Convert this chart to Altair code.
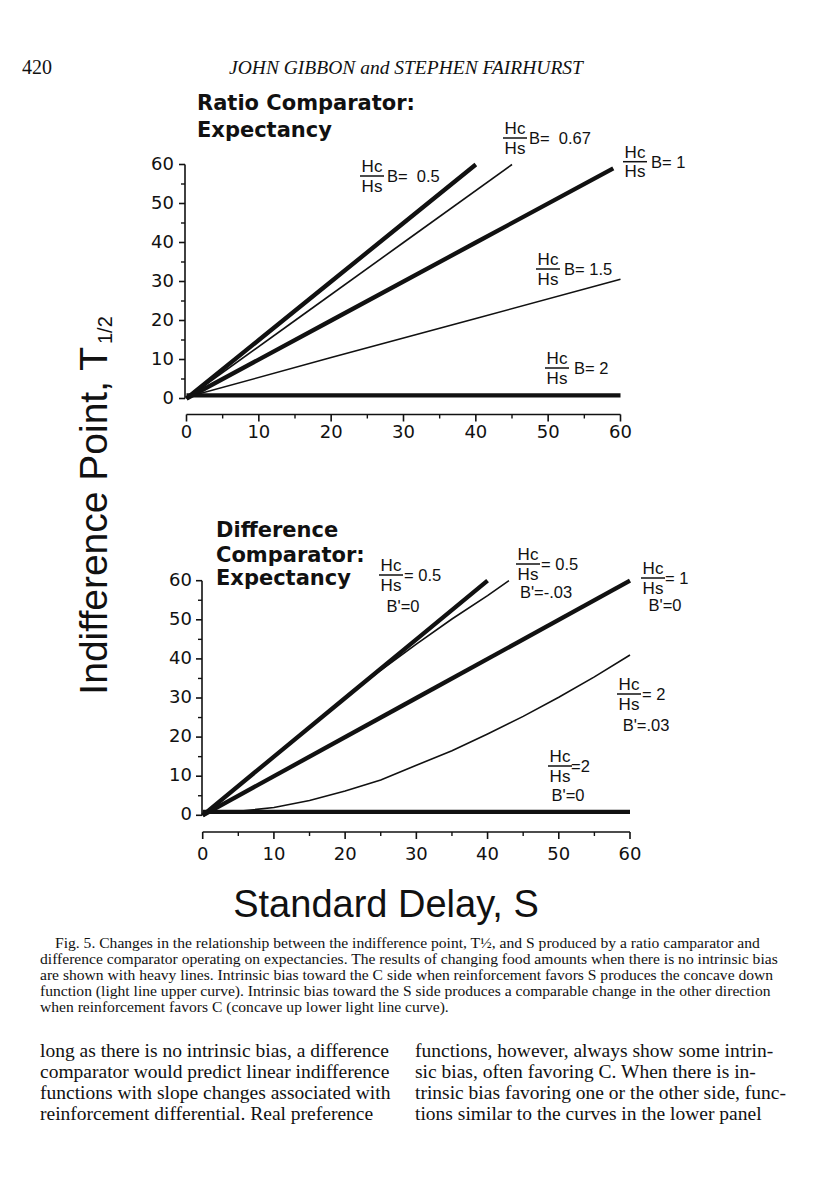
import altair as alt
import pandas as pd

INK = "#111111"

# ---------------- data ----------------
AXIS_TICKS = [0, 10, 20, 30, 40, 50, 60]
MINOR_TICKS = [5, 15, 25, 35, 45, 55]

# Upper panel: ratio comparator, expectancy
RATIO_B05_S = [0, 10, 20, 30, 40]
RATIO_B05_T = [0, 15, 30, 45, 60]
RATIO_B067_S = [0, 15, 30, 45]
RATIO_B067_T = [0, 20, 40, 60]
RATIO_B1_S = [0, 20, 40, 59]
RATIO_B1_T = [0, 20, 40, 59]
RATIO_B15_S = [0, 20, 40, 60]
RATIO_B15_T = [0.3, 10.5, 20.5, 30.6]
RATIO_B2_S = [0, 60]
RATIO_B2_T = [0.8, 0.8]

# Lower panel: difference comparator, expectancy
DIFF_05_S = [0, 10, 20, 30, 40]
DIFF_05_T = [0, 15, 30, 45, 60]
DIFF_05N_S = [0, 5, 10, 15, 20, 25, 30, 35, 40, 43]
DIFF_05N_T = [0, 7.6, 15.2, 22.7, 30, 37.1, 43.8, 50.2, 56.2, 60]
DIFF_1_S = [0, 30, 60]
DIFF_1_T = [0, 30, 60]
DIFF_2P_S = [0, 5, 10, 15, 20, 25, 30, 35, 40, 45, 50, 55, 60]
DIFF_2P_T = [0.8, 1.0, 2.0, 3.8, 6.2, 9.0, 12.8, 16.5, 20.8, 25.3, 30.2, 35.4, 41.0]
DIFF_2_S = [0, 60]
DIFF_2_T = [0.9, 0.9]


def series(name, heavy, s, t):
    return pd.DataFrame({"S": s, "T": t, "curve": name, "heavy": heavy})


top_df = pd.concat([
    series("B=0.5", True, RATIO_B05_S, RATIO_B05_T),
    series("B=0.67", False, RATIO_B067_S, RATIO_B067_T),
    series("B=1", True, RATIO_B1_S, RATIO_B1_T),
    series("B=1.5", False, RATIO_B15_S, RATIO_B15_T),
    series("B=2", True, RATIO_B2_S, RATIO_B2_T),
], ignore_index=True)

bot_df = pd.concat([
    series("0.5 B'=0", True, DIFF_05_S, DIFF_05_T),
    series("0.5 B'=-.03", False, DIFF_05N_S, DIFF_05N_T),
    series("1 B'=0", True, DIFF_1_S, DIFF_1_T),
    series("2 B'=.03", False, DIFF_2P_S, DIFF_2P_T),
    series("2 B'=0", True, DIFF_2_S, DIFF_2_T),
], ignore_index=True)

OFF = 8  # page margin


def P(v):
    return v - OFF


TICK_FONT = "DejaVu Sans"


def panel(df, x_rng, y_rng, yaxis_px, xaxis_py, xlab_py, ylab_px):
    xs = alt.Scale(domain=[0, 60], range=[P(x_rng[0]), P(x_rng[1])], nice=False, zero=False)
    ys = alt.Scale(domain=[0, 60], range=[P(y_rng[0]), P(y_rng[1])], nice=False, zero=False)

    def X(f):
        return alt.X(f, type="quantitative", scale=xs, axis=None)

    def Y(f):
        return alt.Y(f, type="quantitative", scale=ys, axis=None)

    heavy = alt.Chart(df[df.heavy]).mark_line(color=INK, strokeWidth=4.3, strokeCap="butt").encode(
        x=X("S"), y=Y("T"), detail="curve:N")
    thin = alt.Chart(df[~df.heavy]).mark_line(color=INK, strokeWidth=1.6, strokeCap="butt").encode(
        x=X("S"), y=Y("T"), detail="curve:N")

    major = pd.DataFrame({"v": AXIS_TICKS})
    minor = pd.DataFrame({"v": MINOR_TICKS})
    span = pd.DataFrame({"a": [0], "b": [60]})

    ydom = alt.Chart(span).mark_rule(color=INK, strokeWidth=1.6).encode(
        x=alt.value(P(yaxis_px)), y=Y("a"), y2=alt.Y2("b"))
    ymaj = alt.Chart(major).mark_rule(color=INK, strokeWidth=1.6).encode(
        y=Y("v"), x=alt.value(P(yaxis_px) - 6), x2=alt.value(P(yaxis_px)))
    ymin = alt.Chart(minor).mark_rule(color=INK, strokeWidth=1.4).encode(
        y=Y("v"), x=alt.value(P(yaxis_px) - 4), x2=alt.value(P(yaxis_px)))
    ylab = alt.Chart(major).mark_text(align="right", baseline="middle", font=TICK_FONT,
                                      fontSize=18, color=INK).encode(
        y=Y("v"), x=alt.value(P(ylab_px)), text=alt.Text("v:Q", format="d"))

    xdom = alt.Chart(span).mark_rule(color=INK, strokeWidth=1.6).encode(
        x=X("a"), x2=alt.X2("b"), y=alt.value(P(xaxis_py)))
    xmaj = alt.Chart(major).mark_rule(color=INK, strokeWidth=1.6).encode(
        x=X("v"), y=alt.value(P(xaxis_py)), y2=alt.value(P(xaxis_py) + 7))
    xmin = alt.Chart(minor).mark_rule(color=INK, strokeWidth=1.4).encode(
        x=X("v"), y=alt.value(P(xaxis_py)), y2=alt.value(P(xaxis_py) + 4))
    xlab = alt.Chart(major).mark_text(align="center", baseline="middle", font=TICK_FONT,
                                      fontSize=18, color=INK).encode(
        x=X("v"), y=alt.value(P(xlab_py)), text=alt.Text("v:Q", format="d"))

    return alt.layer(thin, heavy, ydom, ymaj, ymin, ylab, xdom, xmaj, xmin, xlab)


top_panel = panel(top_df, (186.5, 620.5), (398.5, 164.5), 185, 414.5, 433, 174)
bot_panel = panel(bot_df, (202.7, 630), (815.3, 580.7), 202, 832, 855, 192)


# ---------------- text layout (page pixel positions) ----------------
def texts(rows, **mark):
    df = pd.DataFrame(rows, columns=["t", "x", "y"])
    df["x"] = df["x"] - OFF
    df["y"] = df["y"] - OFF
    return alt.Chart(df).mark_text(color=INK, **mark).encode(
        x=alt.X("x:Q", scale=None, axis=None),
        y=alt.Y("y:Q", scale=None, axis=None),
        text="t:N")


def bars(rows):
    df = pd.DataFrame(rows, columns=["x", "x2", "y"])
    for c in ["x", "x2", "y"]:
        df[c] = df[c] - OFF
    return alt.Chart(df).mark_rule(color=INK, strokeWidth=1.5).encode(
        x=alt.X("x:Q", scale=None, axis=None), x2="x2:Q",
        y=alt.Y("y:Q", scale=None, axis=None))


NB = "\u00a0"
# fraction labels: (bar centre x, bar y, suffix x, suffix)
TOP_FRACS = [(372, 176, 387, "B=" + NB + NB + "0.5"), (515, 138, 529, "B=" + NB + NB + "0.67"),
             (635, 161.7, 651, "B= 1"), (548, 269, 564, "B= 1.5"), (557, 368, 574, "B= 2")]
BOT_FRACS = [(391, 575, 404, "= 0.5", 403, 612, "B'=0"),
             (528, 564, 541, "= 0.5", 546, 597.5, "B'=-.03"),
             (653, 578, 665, "= 1", 665, 611, "B'=0"),
             (629, 694, 642, "= 2", 646, 731, "B'=.03"),
             (560, 766, 571, "=2", 568, 801, "B'=0")]

frac_num, frac_suffix, frac_bars, bprime = [], [], [], []
for f in TOP_FRACS + BOT_FRACS:
    cx, yb, sx, suf = f[:4]
    frac_num.append(("Hc", cx, yb - 4))
    frac_num.append(("Hs", cx, yb + 15.5))
    frac_bars.append((cx - 12, cx + 12, yb))
    frac_suffix.append((suf, sx, yb + 1))
    if len(f) > 4:
        bprime.append((f[6], f[4], f[5]))

LABEL_FONT = "Liberation Sans"

layers = [
    top_panel, bot_panel,
    texts([("420", 22, 68)], align="left", font="Liberation Serif", fontSize=20),
    texts([("JOHN GIBBON and STEPHEN FAIRHURST", 406, 68)], align="center",
          font="Liberation Serif", fontSize=19.5, fontStyle="italic"),
    texts([("Ratio Comparator:", 197, 110), ("Expectancy", 197, 137),
           ("Difference", 216, 537), ("Comparator:", 216, 561.5), ("Expectancy", 216, 585)],
          align="left", baseline="alphabetic", font="DejaVu Sans", fontWeight="bold", fontSize=21),
    texts(frac_num, align="center", baseline="alphabetic", font=LABEL_FONT, fontSize=17),
    texts(bprime, align="center", baseline="alphabetic", font=LABEL_FONT, fontSize=16.5),
    texts(frac_suffix, align="left", baseline="middle", font=LABEL_FONT, fontSize=16.5),
    bars(frac_bars),
    texts([("Indifference Point, T", 107, 347)], align="right", baseline="alphabetic",
          angle=270, font="Liberation Sans", fontSize=39),
    texts([("1/2", 112, 344)], align="left", baseline="alphabetic",
          angle=270, font="Liberation Sans", fontSize=20),
    texts([("Standard Delay, S", 386, 917)], align="center", baseline="alphabetic",
          font="Liberation Sans", fontSize=38),
    texts([
        ("Fig. 5.   Changes in the relationship between the indifference point, T½, and S produced by a ratio camparator and", 55, 948),
        ("difference comparator operating on expectancies. The results of changing food amounts when there is no intrinsic bias", 40, 964),
        ("are shown with heavy lines. Intrinsic bias toward the C side when reinforcement favors S produces the concave down", 40, 980),
        ("function (light line upper curve). Intrinsic bias toward the S side produces a comparable change in the other direction", 40, 996),
        ("when reinforcement favors C (concave up lower light line curve).", 40, 1012),
    ], align="left", baseline="alphabetic", font="Liberation Serif", fontSize=15.6),
    texts([
        ("long as there is no intrinsic bias, a difference", 40, 1057),
        ("comparator would predict linear indifference", 40, 1078),
        ("functions with slope changes associated with", 40, 1099),
        ("reinforcement differential. Real preference", 40, 1120),
        ("functions, however, always show some intrin-", 415, 1057),
        ("sic bias, often favoring C. When there is in-", 415, 1078),
        ("trinsic bias favoring one or the other side, func-", 415, 1099),
        ("tions similar to the curves in the lower panel", 415, 1120),
    ], align="left", baseline="alphabetic", font="Liberation Serif", fontSize=19.5),
]

chart = alt.layer(*layers).resolve_scale(x="independent", y="independent").properties(
    width=800, height=1184, autosize=alt.AutoSizeParams(type="none"), padding=0,
    background="white",
).configure_view(stroke=None)

chart.save("out.html", embed_options={"renderer": "svg", "actions": False})
